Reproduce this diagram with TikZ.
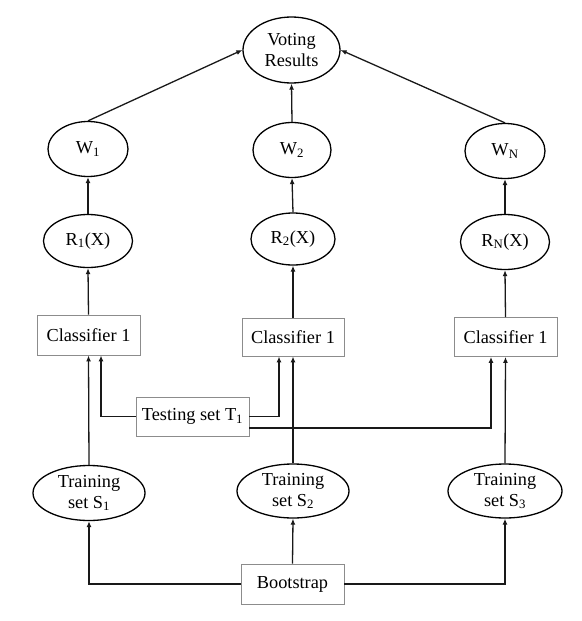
\documentclass[tikz,border=0pt]{standalone}
\usepackage{fontspec}
\setmainfont{Liberation Serif}
\usetikzlibrary{shapes.geometric,arrows.meta}
\begin{document}
\begin{tikzpicture}[x=1pt,y=-1pt,
  every node/.style={font=\fontsize{18.3}{21}\selectfont, inner sep=0pt, align=center},
  oval/.style={ellipse, draw=black, line width=1.3pt},
  box/.style={rectangle, draw=black!45, line width=0.9pt},
  conn/.style={line width=1.3pt, draw=black!90, -{Latex[length=6pt,width=5pt]}}]
\useasboundingbox (0,0) rectangle (581,621);
% top
\node[oval, minimum width=97, minimum height=66] (V) at (291.5,50) {Voting\\Results};
\node[oval, minimum width=80, minimum height=55] (W1) at (88,149) {W\textsubscript{1}};
\node[oval, minimum width=78, minimum height=55] (W2) at (292,150) {W\textsubscript{2}};
\node[oval, minimum width=80, minimum height=55] (WN) at (505,151) {W\textsubscript{N}};
\node[oval, minimum width=89, minimum height=53] (R1) at (88,241) {R\textsubscript{1}(X)};
\node[oval, minimum width=84, minimum height=52] (R2) at (293,239) {R\textsubscript{2}(X)};
\node[oval, minimum width=89, minimum height=55] (RN) at (505,242) {R\textsubscript{N}(X)};
% classifiers
\node[box, minimum width=103, minimum height=40] (C1) at (88.5,335) {Classifier 1};
\node[box, minimum width=102, minimum height=38] (C2) at (293,337) {Classifier 1};
\node[box, minimum width=103, minimum height=39] (C3) at (505.5,337) {Classifier 1};
% testing
\node[box, minimum width=113, minimum height=39] (T) at (192.5,416.5) {Testing set T\textsubscript{1}};
% training
\node[oval, minimum width=112, minimum height=55] (S1) at (89,493) {Training\\set S\textsubscript{1}};
\node[oval, minimum width=112, minimum height=54] (S2) at (293,491) {Training\\set S\textsubscript{2}};
\node[oval, minimum width=114, minimum height=54] (S3) at (505,491) {Training\\set S\textsubscript{3}};
% bootstrap
\node[box, minimum width=103, minimum height=40] (B) at (292.5,584) {Bootstrap};
% connectors
\draw[conn] (B.west) -| (S1.south);
\draw[conn] (B.north) -- (S2.south);
\draw[conn] (B.east) -| (S3.south);
\draw[conn] (S1.north) -- (C1.south);
\draw[conn] (S2.north) -- (C2.south);
\draw[conn] (S3.north) -- (C3.south);
\draw[conn] (T.west) -| ([xshift=12.5pt]C1.south);
\draw[conn] (T.east) -| ([xshift=-14pt]C2.south);
\draw[conn] ([yshift=-11.5pt]T.east) -| ([xshift=-14.5pt]C3.south);
\draw[conn] (C1.north) -- (R1.south);
\draw[conn] (C2.north) -- (R2.south);
\draw[conn] (C3.north) -- (RN.south);
\draw[conn] (R1.north) -- (W1.south);
\draw[conn] (R2.north) -- (W2.south);
\draw[conn] (RN.north) -- (WN.south);
\draw[conn] (W1.north) -- (V.west);
\draw[conn] (W2.north) -- (V.south);
\draw[conn] (WN.north) -- (V.east);
\end{tikzpicture}
\end{document}
